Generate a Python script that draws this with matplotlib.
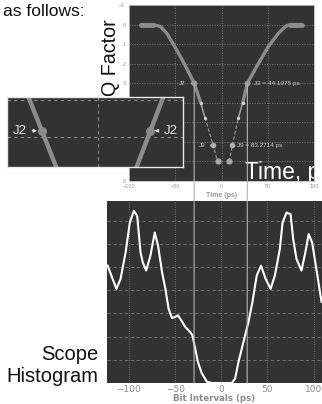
import numpy as np
import matplotlib.pyplot as plt
from matplotlib.patches import ConnectionPatch

# ---- data ----
# bathtub curve (Q factor vs time), split by line style
left_thick_t = [-87, -74, -66, -59, -48.4, -39.5, -29.5, -22.5]
left_thick_q = [0, 0, 0.1, 0.46, 1.3, 2.07, 3.0, 4.0]
left_thin_t = [-22.5, -17.8]
left_thin_q = [4.0, 4.77]
left_dash_t = [-17.8, -8.9, -4.3]
left_dash_q = [4.77, 6.18, 7.0]

right_dash_t = [8.4, 11.7, 18.2]
right_dash_q = [7.0, 6.18, 4.77]
right_thin_t = [18.2, 22.9]
right_thin_q = [4.77, 4.0]
right_thick_t = [22.9, 28.0, 39.8, 50.6, 61.4, 69, 74, 86.7]
right_thick_q = [4.0, 3.0, 2.0, 1.13, 0.46, 0.1, 0, 0]

j2_t = [-29.5, 28.0]
j2_q = 3.0
j9_t = [-8.9, 11.7]
j9_q = 6.18
small_pts_t = [-22.5, -17.8, 18.2, 22.9]
small_pts_q = [4.0, 4.77, 4.77, 4.0]
bottom_pts_t = [-4.3, 8.4]
bottom_pts_q = [7.0, 7.0]

# scope histogram curve
hist_t = [-123, -113.5, -109, -103.5, -99, -94.6, -91, -87.4, -85, -81.3,
          -76.7, -72, -68.4, -64.1, -60.5, -57, -53.3, -49.8, -46.9, -43.3,
          -39, -33.7, -31.2, -28.3, -25.4, -21.1, -15.7, -10.3, 11.5, 15,
          18.7, 24, 29.4, 33.7, 38.4, 43, 48, 53.4, 58, 63.4,
          66.3, 70.6, 75, 77.8, 81.4, 86.8, 91, 94.6, 98.3, 102.9, 108.5]
hist_y = [5.06, 4.06, 4.49, 5.64, 6.92, 7.42, 7.21, 5.64, 5.21, 4.85,
          5.49, 6.49, 5.92, 4.78, 4.06, 3.2, 2.8, 2.85, 2.92, 2.7,
          2.42, 2.2, 2.06, 1.49, 0.92, 0.42, 0.06, 0, 0, 0.2,
          0.92, 1.77, 2.63, 3.49, 4.64, 5.06, 4.49, 4.06, 4.64, 5.78,
          6.92, 7.35, 7.28, 6.21, 5.35, 4.85, 5.64, 6.42, 6.06, 4.92, 3.5]

top_xticks = [-100, -50, 0, 50, 100]
top_yticks = [-1, 0, 1, 2, 3, 4, 5, 6, 7, 8]
bot_xticks = [-100, -50, 0, 50, 100]

# inset (zoom of the J2 crossing), in its own 0..1 frame
inset_left_x = [0.12, 0.278]
inset_right_x = [0.89, 0.738]
inset_y = [0, 1]
inset_j2_x = [0.196, 0.814]
inset_j2_y = 0.486

BG = '#323232'
CURVE = '#8c8c8c'
W, H = 322, 404


def px_rect(x0, y0, x1, y1):
    # pixel box (top-left origin) -> figure fraction
    return [x0 / W, 1 - y1 / H, (x1 - x0) / W, (y1 - y0) / H]


fig = plt.figure(figsize=(W / 100, H / 100), dpi=100)

# ---- top: Q factor bathtub ----
ax = fig.add_axes(px_rect(129, 5, 314, 181))
ax.set_facecolor(BG)
ax.plot(left_thick_t, left_thick_q, color=CURVE, lw=2.4, solid_capstyle='round')
ax.plot(right_thick_t, right_thick_q, color=CURVE, lw=2.4, solid_capstyle='round')
ax.plot([-87, -74], [0, 0], color=CURVE, lw=3.5, solid_capstyle='round')
ax.plot([74, 86.7], [0, 0], color=CURVE, lw=3.5, solid_capstyle='round')
ax.plot(left_thin_t, left_thin_q, color='#9a9a9a', lw=1.2)
ax.plot(right_thin_t, right_thin_q, color='#9a9a9a', lw=1.2)
ax.plot(left_dash_t, left_dash_q, color='#a0a0a0', lw=0.8, ls=(0, (3, 2)))
ax.plot(right_dash_t, right_dash_q, color='#a0a0a0', lw=0.8, ls=(0, (3, 2)))
ax.scatter(j2_t, [j2_q] * 2, s=10, color='#9a9a9a', zorder=4)
ax.scatter(j9_t, [j9_q] * 2, s=9, color='#b0b0b0', zorder=4)
ax.scatter(bottom_pts_t, bottom_pts_q, s=12, color='#a8a8a8', zorder=4)
ax.scatter(small_pts_t, small_pts_q, s=2, color='#d0d0d0', zorder=4)

ann = dict(color='#d0d0d0', fontsize=4.6, family='Liberation Sans', va='center')
arr = dict(arrowstyle='-|>', color='#d0d0d0', lw=0.5, mutation_scale=3)
ax.annotate('J2', xy=(j2_t[0], j2_q), xytext=(-38.5, j2_q), ha='right',
            arrowprops=arr, **ann)
ax.annotate('J2 = 44.1075 ps', xy=(j2_t[1], j2_q), xytext=(35.5, j2_q),
            ha='left', arrowprops=arr, **ann)
ax.annotate('J9', xy=(j9_t[0], j9_q), xytext=(-17, j9_q), ha='right',
            arrowprops=arr, **ann)
ax.annotate('J9 = 83.2714 ps', xy=(j9_t[1], j9_q), xytext=(16.8, j9_q),
            ha='left', arrowprops=arr, **ann)

# big slide label, cut off by the plot's right edge
tl = ax.text(25.5, 7.9, 'Time, ps', color='white', fontsize=16.5,
             family='Liberation Sans', va='baseline', ha='left')
tl.set_clip_box(ax.bbox)
tl.set_clip_on(True)

ax.set_xlim(-100, 100)
ax.set_ylim(8, -1)
ax.set_xticks(top_xticks)
ax.set_yticks(top_yticks)
ax.tick_params(length=0, labelsize=4, labelcolor='#999999', pad=2.5)
for lab in ax.get_xticklabels() + ax.get_yticklabels():
    lab.set_family('Liberation Sans')
ax.set_xlabel('Time (ps)', fontsize=5, color='#999999', fontweight='bold',
              family='Liberation Sans', labelpad=2)
ax.grid(True, color='#777777', lw=0.6, ls=(0, (1.5, 1.5)))
ax.set_axisbelow(True)
for sp in ax.spines.values():
    sp.set_color('#bbbbbb')
    sp.set_linewidth(0.6)

# ---- bottom: scope histogram ----
bx = fig.add_axes(px_rect(106.7, 201, 322, 383))
bx.set_facecolor(BG)
bx.plot(hist_t, hist_y, color='white', lw=1.5)
bx.set_xlim(-124, 109)
bx.set_ylim(0, 7.85)
bx.set_xticks(bot_xticks)
bx.set_yticks(range(1, 8))
bx.tick_params(axis='y', left=False, labelleft=False)
bx.tick_params(axis='x', length=0, labelsize=6.5, labelcolor='#8a8a8a', pad=1.5)
bx.set_xlabel('Bit Intervals (ps)', fontsize=6.2, color='#8a8a8a',
              fontweight='bold', labelpad=0)
bx.grid(True, axis='y', color='#7a7a7a', lw=0.6, ls=(0, (4, 3)))
bx.grid(True, axis='x', color='#7a7a7a', lw=0.6, ls=(0, (1.2, 1.5)))
bx.set_axisbelow(True)
for sp in bx.spines.values():
    sp.set_visible(False)

# J2 guide lines running down through both plots
for t in j2_t:
    con = ConnectionPatch(xyA=(t, j2_q), coordsA=ax.transData,
                          xyB=(t, 0), coordsB=bx.transData,
                          color='#b4b4b4', lw=0.8)
    fig.add_artist(con)

# ---- inset zoom ----
ix = fig.add_axes(px_rect(7.3, 96.7, 182.7, 166.7), zorder=5)
ix.set_facecolor(BG)
ix.plot(inset_left_x, inset_y, color=CURVE, lw=3.2)
ix.plot(inset_right_x, inset_y, color=CURVE, lw=3.2)
ix.scatter(inset_j2_x, [inset_j2_y] * 2, s=30, color=CURVE, zorder=4)
ix.axhline(0.04, color='#8a8a8a', lw=0.8, ls=(0, (3, 3)))
ix.axhline(0.57, color='#8a8a8a', lw=0.8, ls=(0, (3, 3)))
ix.axvline(0.515, color='#8a8a8a', lw=0.8, ls=(0, (3, 3)))
iann = dict(color='#e6e6e6', fontsize=9.5, family='Liberation Sans', va='center')
iarr = dict(arrowstyle='-|>', color='#e6e6e6', lw=0.8, mutation_scale=5)
ix.annotate('J2', xy=(inset_j2_x[0] - 0.01, inset_j2_y), xytext=(0.11, inset_j2_y),
            ha='right', arrowprops=iarr, **iann)
ix.annotate('J2', xy=(inset_j2_x[1] + 0.01, inset_j2_y), xytext=(0.89, inset_j2_y),
            ha='left', arrowprops=iarr, **iann)
ix.set_xlim(0, 1)
ix.set_ylim(1, 0)
ix.set_xticks([])
ix.set_yticks([])
for sp in ix.spines.values():
    sp.set_color('#e8e8e8')
    sp.set_linewidth(1.0)

# ---- slide text ----
fig.text(3 / W, 1 - 11 / H, 'as follows:', fontsize=12.5, family='Liberation Sans',
         va='center', ha='left', color='#111111')
fig.text(110 / W, 1 - 58 / H, 'Q Factor', fontsize=14.2, family='Liberation Sans',
         rotation=90, va='center', ha='center', color='#111111')
fig.text(98 / W, 1 - 355 / H, 'Scope', fontsize=14.5, family='Liberation Sans',
         va='center', ha='right', color='#111111')
fig.text(98 / W, 1 - 377 / H, 'Histogram', fontsize=14.5, family='Liberation Sans',
         va='center', ha='right', color='#111111')

fig.savefig('out.png', dpi=100)
